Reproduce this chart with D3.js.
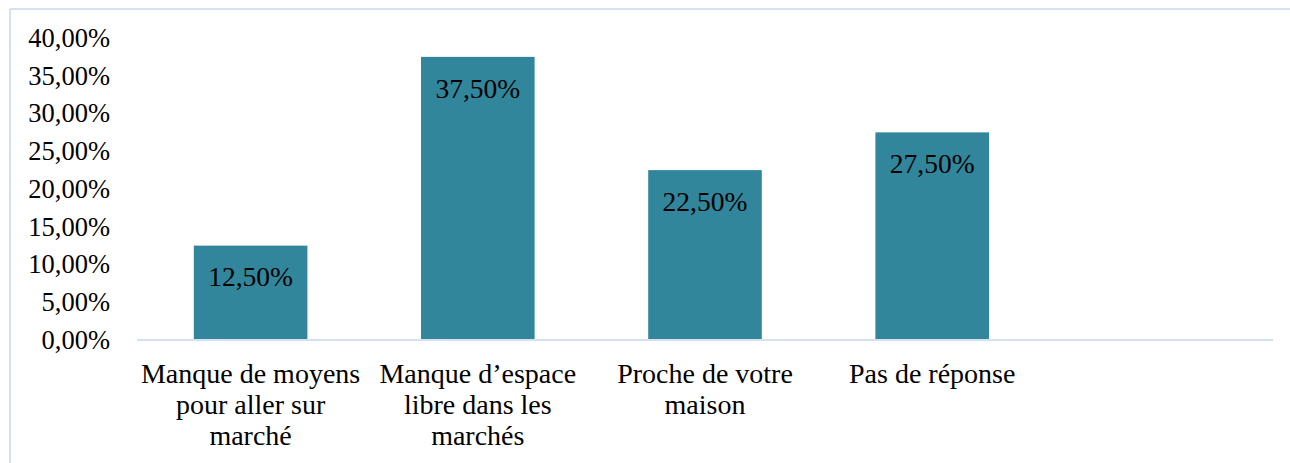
<!DOCTYPE html>
<html>
<head>
<meta charset="utf-8">
<script src="https://cdn.jsdelivr.net/npm/d3@7"></script>
<style>
    body { margin: 0; background: #fff; }
    svg { display: block; }
    svg text { font-family: "Liberation Serif", "DejaVu Serif", serif; fill: #000; }
</style>
</head>
<body>
<svg id="chart"></svg>
<script>
    // categories (the 5th slot is empty in the original chart)
    const categories = [
        "Manque de moyens pour aller sur marché",
        "Manque d\u2019espace libre dans les marchés",
        "Proche de votre maison",
        "Pas de réponse",
        ""
    ]
    const values = [12.5, 37.5, 22.5, 27.5, null]
    const yTicks = [0, 5, 10, 15, 20, 25, 30, 35, 40]

    const WIDTH = 1290
    const HEIGHT = 463
    const MARGIN = {top: 38, left: 137, right: 17, bottom: 123}
    const FRAME = "#d5e1f1"
    const BAR = "#31869c"
    const SERIF = "'Liberation Serif', 'DejaVu Serif', serif"

    const svg = d3.select("#chart")
        .attr("width", WIDTH)
        .attr("height", HEIGHT)

    // outer frame (top + left edge)
    svg.append("line")
        .attr("x1", 10).attr("x2", WIDTH)
        .attr("y1", 9).attr("y2", 9)
        .attr("stroke", FRAME).attr("stroke-width", 2)
    svg.append("line")
        .attr("x1", 10).attr("x2", 10)
        .attr("y1", 9).attr("y2", HEIGHT)
        .attr("stroke", FRAME).attr("stroke-width", 2)

    const x = d3.scaleBand()
        .domain(d3.range(categories.length))
        .range([MARGIN.left, WIDTH - MARGIN.right])
        .paddingInner(0.5)
        .paddingOuter(0.25)

    const y = d3.scaleLinear()
        .domain([0, 40])
        .range([HEIGHT - MARGIN.bottom, MARGIN.top])

    const fmt = v => d3.format(".2f")(v).replace(".", ",") + "%"

    // y axis labels (no axis line, no tick marks)
    const yAxis = svg.append("g")
        .attr("transform", `translate(${MARGIN.left - 27},0)`)
        .call(d3.axisLeft(y).tickValues(yTicks).tickSize(0).tickPadding(0).tickFormat(fmt))
    yAxis.attr("font-family", SERIF)
    yAxis.select(".domain").remove()
    yAxis.selectAll("text")
        .attr("font-size", 26.5)
        .attr("fill", "#000")

    // bars
    const bars = categories.map((c, i) => ({i: i, v: values[i]})).filter(d => d.v != null)
    svg.selectAll("rect.bar")
        .data(bars)
        .enter().append("rect")
            .attr("class", "bar")
            .attr("x", d => x(d.i))
            .attr("width", x.bandwidth())
            .attr("y", d => y(d.v))
            .attr("height", d => y(0) - y(d.v))
            .attr("fill", BAR)

    // value labels inside bars
    svg.selectAll("text.val")
        .data(bars)
        .enter().append("text")
            .attr("class", "val")
            .attr("x", d => x(d.i) + x.bandwidth() / 2)
            .attr("y", d => y(d.v) + 31)
            .attr("dy", "0.35em")
            .attr("text-anchor", "middle")
            .attr("font-size", 27.5)
            .text(d => fmt(d.v))

    // x axis baseline
    svg.append("line")
        .attr("x1", MARGIN.left).attr("x2", WIDTH - MARGIN.right)
        .attr("y1", y(0)).attr("y2", y(0))
        .attr("stroke", FRAME).attr("stroke-width", 2)

    // category labels, wrapped
    function wrap(textSel, width) {
        textSel.each(function(d) {
            const t = d3.select(this)
            const words = categories[d].split(/\s+/).filter(w => w)
            let line = []
            let tspan = t.append("tspan").attr("x", t.attr("x")).attr("dy", 0)
            words.forEach(w => {
                line.push(w)
                tspan.text(line.join(" "))
                if (tspan.node().getComputedTextLength() > width && line.length > 1) {
                    line.pop()
                    tspan.text(line.join(" "))
                    line = [w]
                    tspan = t.append("tspan").attr("x", t.attr("x")).attr("dy", 31).text(w)
                }
            })
        })
    }

    svg.selectAll("text.cat")
        .data(d3.range(categories.length).filter(i => categories[i]))
        .enter().append("text")
            .attr("class", "cat")
            .attr("x", i => x(i) + x.bandwidth() / 2)
            .attr("y", y(0) + 43)
            .attr("text-anchor", "middle")
            .attr("font-size", 28)
            .call(wrap, 225)
</script>
</body>
</html>
